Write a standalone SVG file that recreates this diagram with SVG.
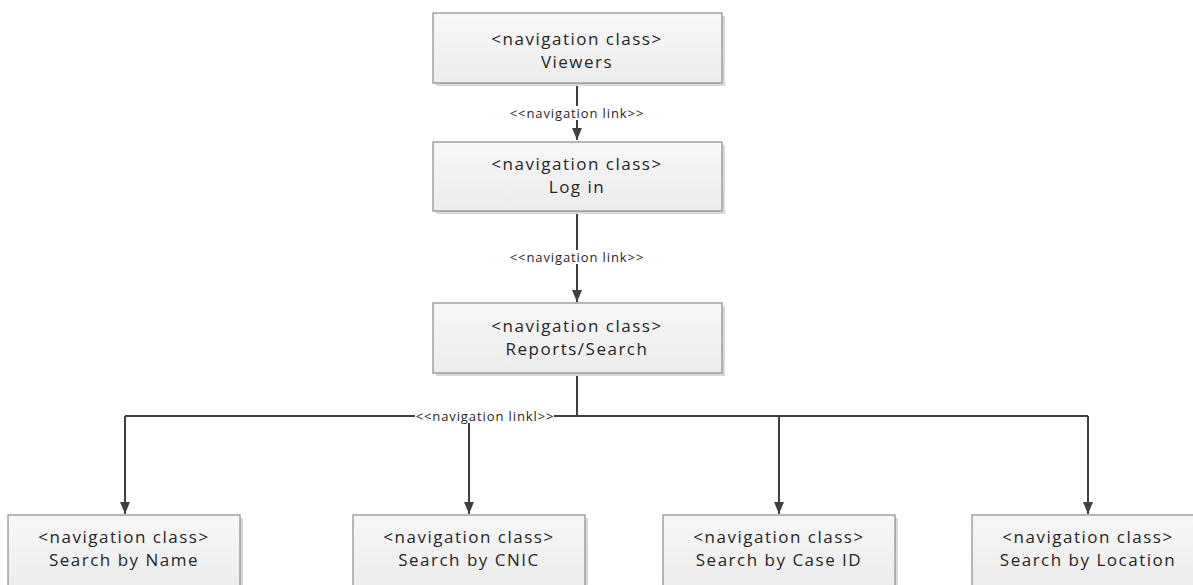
<svg xmlns="http://www.w3.org/2000/svg" width="1193" height="585" viewBox="0 0 1193 585">
  <style>
    .box { fill: url(#boxFill); stroke: #8a8a8a; stroke-width: 1.2; }
    .shadow { fill: #d9d9d9; }
    .txt { font-family: "Open Sans", Lato, sans-serif; font-size: 17px; letter-spacing: 1.5px; fill: #262626; text-anchor: middle; font-variant-ligatures: none; }
    .lbl { font-family: "Open Sans", Lato, sans-serif; font-size: 13px; letter-spacing: 0.9px; fill: #262626; text-anchor: middle; font-variant-ligatures: none; }
    .edge { fill: none; stroke: #404040; stroke-width: 2; }
    .bg { fill: #ffffff; }
  </style>
  <defs>
    <linearGradient id="boxFill" x1="0" y1="0" x2="0" y2="1">
      <stop offset="0" stop-color="#f7f7f7"/>
      <stop offset="1" stop-color="#ececec"/>
    </linearGradient>
    <marker id="arrow" markerWidth="12" markerHeight="10" refX="12" refY="5" orient="auto" markerUnits="userSpaceOnUse">
      <path d="M0,0 L12,5 L0,10 Z" fill="#404040"/>
    </marker>
  </defs>

  <!-- connectors -->
  <g id="connectors">
    <path class="edge" d="M577,83 V140" marker-end="url(#arrow)"/>
    <rect class="bg" x="508" y="106" width="138" height="14"/>
    <text class="lbl" x="577" y="118">&lt;&lt;navigation link&gt;&gt;</text>

    <path class="edge" d="M577,211 V302" marker-end="url(#arrow)"/>
    <rect class="bg" x="508" y="250" width="138" height="14"/>
    <text class="lbl" x="577" y="262">&lt;&lt;navigation link&gt;&gt;</text>

    <path class="edge" d="M577,373 V416"/>
    <path class="edge" d="M125,416 H1088"/>
    <path class="edge" d="M125,416 V514" marker-end="url(#arrow)"/>
    <path class="edge" d="M469,416 V514" marker-end="url(#arrow)"/>
    <path class="edge" d="M779,416 V514" marker-end="url(#arrow)"/>
    <path class="edge" d="M1088,416 V514" marker-end="url(#arrow)"/>
    <rect class="bg" x="415" y="409" width="139" height="14"/>
    <text class="lbl" x="485" y="421">&lt;&lt;navigation linkl&gt;&gt;</text>
  </g>

  <!-- top column -->
  <g id="viewers">
    <rect class="shadow" x="436" y="16" width="289" height="70"/>
    <rect class="box" x="433" y="13" width="289" height="70"/>
    <text class="txt" x="577" y="45">&lt;navigation class&gt;</text>
    <text class="txt" x="577" y="68">Viewers</text>
  </g>
  <g id="login">
    <rect class="shadow" x="436" y="145" width="289" height="69"/>
    <rect class="box" x="433" y="142" width="289" height="69"/>
    <text class="txt" x="577" y="170">&lt;navigation class&gt;</text>
    <text class="txt" x="577" y="193">Log in</text>
  </g>
  <g id="reports">
    <rect class="shadow" x="436" y="306" width="289" height="70"/>
    <rect class="box" x="433" y="303" width="289" height="70"/>
    <text class="txt" x="577" y="332">&lt;navigation class&gt;</text>
    <text class="txt" x="577" y="355">Reports/Search</text>
  </g>

  <!-- search pages -->
  <g id="search-name">
    <rect class="shadow" x="11" y="518" width="232" height="70"/>
    <rect class="box" x="8" y="515" width="232" height="72"/>
    <text class="txt" x="124" y="543">&lt;navigation class&gt;</text>
    <text class="txt" x="124" y="566">Search by Name</text>
  </g>
  <g id="search-cnic">
    <rect class="shadow" x="356" y="518" width="232" height="70"/>
    <rect class="box" x="353" y="515" width="232" height="72"/>
    <text class="txt" x="469" y="543">&lt;navigation class&gt;</text>
    <text class="txt" x="469" y="566">Search by CNIC</text>
  </g>
  <g id="search-case">
    <rect class="shadow" x="666" y="518" width="232" height="70"/>
    <rect class="box" x="663" y="515" width="232" height="72"/>
    <text class="txt" x="779" y="543">&lt;navigation class&gt;</text>
    <text class="txt" x="779" y="566">Search by Case ID</text>
  </g>
  <g id="search-location">
    <rect class="shadow" x="975" y="518" width="232" height="70"/>
    <rect class="box" x="972" y="515" width="232" height="72"/>
    <text class="txt" x="1088" y="543">&lt;navigation class&gt;</text>
    <text class="txt" x="1088" y="566">Search by Location</text>
  </g>
</svg>
